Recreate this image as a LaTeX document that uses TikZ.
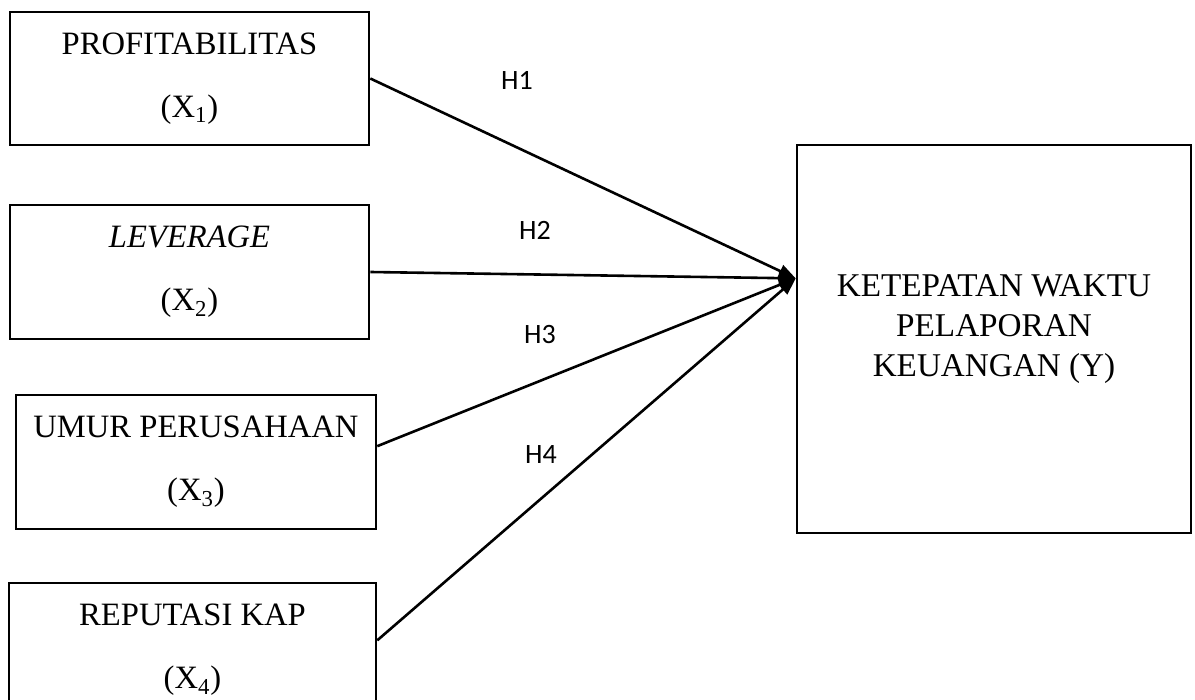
\documentclass[tikz,border=0pt]{standalone}
\usepackage{fontspec}
\setmainfont{Liberation Serif}
\newfontfamily\hfont{Carlito}
\usetikzlibrary{arrows.meta}

\tikzset{
	varbox/.style={draw, line width=1.3pt, align=center, inner sep=0pt,
		font=\fontsize{16.3}{31.5}\selectfont},
	hyplabel/.style={font=\hfont\fontsize{14}{16}\selectfont},
	hyparrow/.style={line width=1.3pt, -{Triangle[length=8.5pt,width=6.5pt]}}
}

\begin{document}
\begin{tikzpicture}[x=0.5pt, y=-0.5pt]
	\useasboundingbox (0,0) rectangle (1195,700);
	\clip (0,0) rectangle (1195,700);

	%Variables independientes
	\node[varbox, minimum width=179.5pt, minimum height=66.5pt] (x1) at (189.5,78.5)
		{PROFITABILITAS\\(X\textsubscript{1})};
	\node[varbox, minimum width=179.5pt, minimum height=67pt] (x2) at (189.5,272)
		{\textit{LEVERAGE}\\(X\textsubscript{2})};
	\node[varbox, minimum width=180pt, minimum height=67pt] (x3) at (196,462)
		{UMUR PERUSAHAAN\\(X\textsubscript{3})};
	\node[varbox, minimum width=183.5pt, minimum height=67pt] (x4) at (192.5,650)
		{REPUTASI KAP\\(X\textsubscript{4})};

	%Variable dependiente
	\node[draw, line width=1.3pt, minimum width=197pt, minimum height=194pt,
		label={[align=center, yshift=5pt, font=\fontsize{16.6}{20}\selectfont]center:KETEPATAN WAKTU\\PELAPORAN\\KEUANGAN (Y)}]
		(y) at (994,339) {};

	%Hipotesis
	\draw[hyparrow] (x1.east) -- (y.163);
	\draw[hyparrow] (x2.east) -- (y.163);
	\draw[hyparrow] (x3.5) -- (y.163);
	\draw[hyparrow] (x4.3) -- (y.163);

	\node[hyplabel] (h1) at (517,80) {H1};
	\node[hyplabel] (h2) at (535,230) {H2};
	\node[hyplabel] (h3) at (540,335) {H3};
	\node[hyplabel] (h4) at (541,455) {H4};
\end{tikzpicture}
\end{document}
